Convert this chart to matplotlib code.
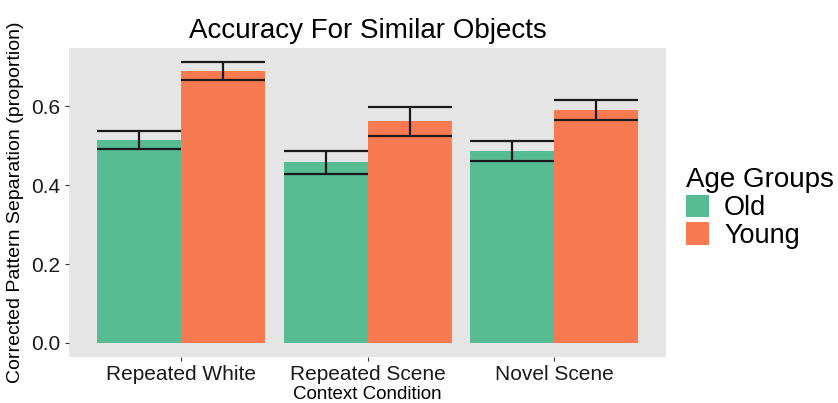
import numpy as np
import matplotlib.pyplot as plt
from matplotlib.patches import Patch

plt.rcParams['font.family'] = ['Liberation Sans', 'DejaVu Sans']

conditions = ["Repeated White", "Repeated Scene", "Novel Scene"]
groups = ["Old", "Young"]
old_mean = [0.515, 0.457, 0.486]
old_se = [0.023, 0.028, 0.025]
young_mean = [0.688, 0.561, 0.590]
young_se = [0.023, 0.036, 0.025]
colors = ["#57BB94", "#F87A50"]

fig = plt.figure(figsize=(8.38, 4.03), dpi=100)
ax = fig.add_axes([0.0823, 0.114, 0.7127, 0.767])
ax.set_facecolor("#E5E5E5")

x = np.arange(1, len(conditions) + 1)
w = 0.45
for off, means, ses, col in [(-w / 2, old_mean, old_se, colors[0]),
                             (w / 2, young_mean, young_se, colors[1])]:
    xs = x + off
    ax.bar(xs, means, width=w, color=col, zorder=2)
    lo = np.array(means) - np.array(ses)
    hi = np.array(means) + np.array(ses)
    ax.vlines(xs, lo, hi, color="#1a1a1a", lw=1.6, zorder=3)
    ax.hlines(lo, xs - w / 2, xs + w / 2, color="#1a1a1a", lw=1.6, zorder=3)
    ax.hlines(hi, xs - w / 2, xs + w / 2, color="#1a1a1a", lw=1.6, zorder=3)

ax.set_xlim(0.4, 3.6)
ax.set_ylim(-0.0356, 0.747)
ax.set_yticks([0.0, 0.2, 0.4, 0.6])
ax.set_yticklabels(["0.0", "0.2", "0.4", "0.6"])
ax.set_xticks(x)
ax.set_xticklabels(conditions)
for s in ax.spines.values():
    s.set_visible(False)
ax.tick_params(axis="both", colors="#333333", labelcolor="#1a1a1a",
               labelsize=15, length=3, width=0.8)
ax.tick_params(axis="x", pad=3)

ax.set_xlabel("Context Condition", fontsize=13.5, labelpad=1)
ax.set_ylabel("Corrected Pattern Separation (proportion)", fontsize=14, labelpad=5)
ax.set_title("Accuracy For Similar Objects", fontsize=20, pad=7)

handles = [Patch(facecolor=colors[0], edgecolor="none", label=groups[0]),
           Patch(facecolor=colors[1], edgecolor="none", label=groups[1])]
leg = fig.legend(handles=handles, title="Age Groups", loc="upper left",
                 bbox_to_anchor=(0.806, 0.612), frameon=False, fontsize=19.5,
                 title_fontsize=20, handlelength=0.85, handleheight=0.9,
                 handletextpad=0.55, labelspacing=0.05, borderaxespad=0)
leg._legend_box.align = "left"

fig.savefig("out.png", dpi=100)
